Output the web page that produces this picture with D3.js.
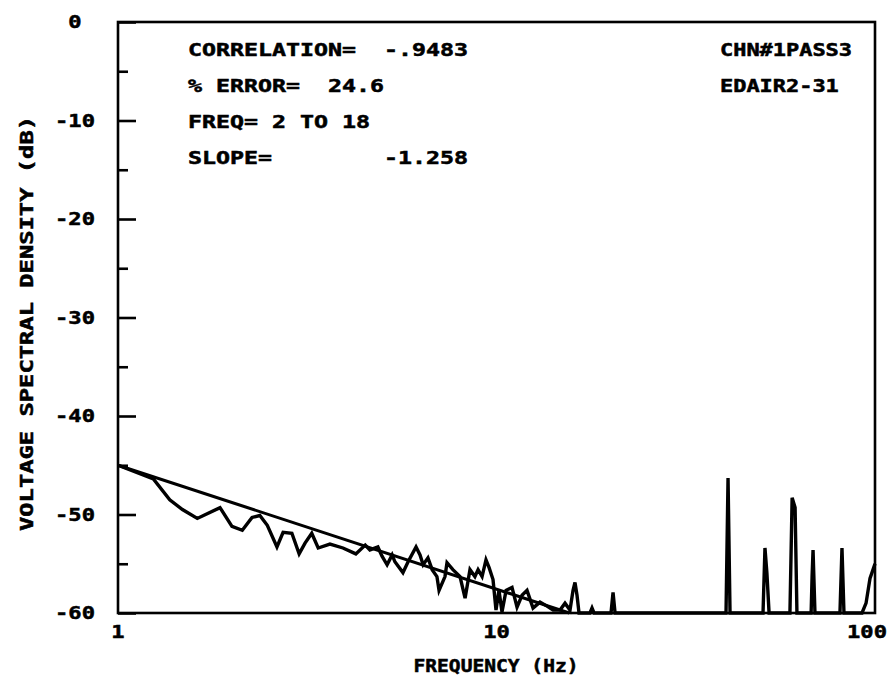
<!DOCTYPE html>
<html>
<head>
<meta charset="utf-8">
<script src="https://cdn.jsdelivr.net/npm/d3@7"></script>
<style>
  html, body { margin: 0; padding: 0; background: #fff; }
  svg text { font-family: "DejaVu Sans Mono", monospace; font-weight: bold; fill: #000; stroke: #000; stroke-width: 0.5; white-space: pre; }
</style>
</head>
<body>
<svg id="chart" width="892" height="684"></svg>
<script>
// Measured voltage spectral density (dB) against frequency (Hz)
const specFreq = [
  1.00, 1.24, 1.37, 1.48, 1.62, 1.86, 2.00, 2.13, 2.26, 2.37, 2.48, 2.63, 2.73, 2.88,
  3.01, 3.12, 3.25, 3.38, 3.63, 3.93, 4.25, 4.50, 4.63, 4.86, 4.98, 5.14, 5.30, 5.39,
  5.66, 5.84, 6.13, 6.28, 6.40, 6.59, 6.76, 6.96, 7.05, 7.31, 7.40, 7.67, 8.01, 8.26,
  8.51, 8.77, 8.94, 9.16, 9.38, 9.56, 9.79, 9.97, 10.15, 10.34, 10.60, 10.99, 11.33,
  11.68, 12.04, 12.49, 13.03, 13.60, 14.11, 14.72, 15.17, 15.64, 15.93, 16.12, 16.32,
  16.52, 17.66, 17.88, 18.10, 20.07, 20.32, 20.57,
  40.4, 40.9, 41.4,
  50.6, 51.2, 51.8, 52.5,
  59.6, 60.4, 61.5, 62.2,
  67.8, 68.2, 68.6, 69.4,
  80.8, 81.8, 82.8,
  92.4, 94.7, 97.0, 98.8, 100.0
];
const specDb = [
  -45.0, -46.4, -48.5, -49.5, -50.4, -49.3, -51.2, -51.6, -50.3, -50.1, -51.1, -53.3, -51.8, -51.9,
  -54.0, -52.9, -51.9, -53.4, -53.0, -53.4, -54.0, -53.1, -53.6, -53.3, -54.2, -55.1, -54.1, -54.8,
  -55.9, -54.8, -53.3, -54.1, -55.1, -54.4, -55.6, -56.3, -57.7, -56.3, -54.9, -55.6, -56.3, -58.5,
  -55.6, -56.3, -55.6, -56.3, -54.6, -55.4, -56.6, -59.7, -57.7, -59.9, -57.7, -57.4, -59.4,
  -58.2, -57.7, -59.5, -58.9, -59.3, -59.7, -59.7, -59.0, -59.7, -57.7, -56.9, -58.2,
  -60.0, -60.0, -59.5, -60.0, -60.0, -57.9, -60.0,
  -60.0, -46.3, -60.0,
  -60.0, -53.4, -55.9, -60.0,
  -60.0, -48.3, -49.3, -60.0,
  -60.0, -56.3, -53.6, -60.0,
  -60.0, -53.4, -60.0,
  -60.0, -59.0, -56.5, -55.6, -55.0
];

// Least-squares fit over 2–18 Hz: level at 1 Hz and log-log slope
const fitIntercept = -45.0;
const fitSlope = -1.258;

const yTicks = [0, -10, -20, -30, -40, -50, -60];
const yMinorTicks = [-5, -15, -25, -35, -45, -55];
const xTicks = [1, 10, 100];

const statLines = [
  "CORRELATION=  -.9483",
  "% ERROR=  24.6",
  "FREQ= 2 TO 18",
  "SLOPE=        -1.258"
];
const runLines = ["CHN#1PASS3", "EDAIR2-31"];
const yTitle = "VOLTAGE SPECTRAL DENSITY (dB)";
const xTitle = "FREQUENCY (Hz)";

const svg = d3.select("#chart");
const L = 118, R = 875, T = 22, B = 613;

const x = d3.scaleLog().domain([1, 100]).range([L, R]);
const y = d3.scaleLinear().domain([-60, 0]).range([B, T]);

// Frame
svg.append("rect")
  .attr("x", L).attr("y", T).attr("width", R - L).attr("height", B - T)
  .attr("fill", "none").attr("stroke", "#000").attr("stroke-width", 2.6);

// Left axis: ticks drawn inward
const yAxis = d3.axisRight(y).tickValues(yTicks).tickSize(18).tickFormat("");
svg.append("g").attr("transform", `translate(${L},0)`).call(yAxis)
  .call(g => g.select(".domain").remove())
  .call(g => g.selectAll("line").attr("stroke", "#000").attr("stroke-width", 2.6));
const yMinor = d3.axisRight(y).tickValues(yMinorTicks).tickSize(10).tickFormat("");
svg.append("g").attr("transform", `translate(${L},0)`).call(yMinor)
  .call(g => g.select(".domain").remove())
  .call(g => g.selectAll("line").attr("stroke", "#000").attr("stroke-width", 2.6));

// Tick labels are stretched to the plotter's wide character cell
const cell = 13.3;
svg.append("g").selectAll("text").data(yTicks).join("text")
  .attr("x", 75).attr("y", d => y(d)).attr("dy", "0.36em")
  .attr("text-anchor", "middle").attr("font-size", 17)
  .attr("textLength", d => String(d).length * cell).attr("lengthAdjust", "spacingAndGlyphs")
  .text(d => String(d));

svg.append("g").selectAll("text").data(xTicks).join("text")
  .attr("x", d => Math.min(x(d), R - 8)).attr("y", B + 19).attr("dy", "0.36em")
  .attr("text-anchor", "middle").attr("font-size", 17)
  .attr("textLength", d => String(d).length * cell).attr("lengthAdjust", "spacingAndGlyphs")
  .text(d => String(d));

// Axis titles
svg.append("text")
  .attr("transform", `translate(27,${(T + B) / 2 + 6}) rotate(-90)`)
  .attr("text-anchor", "middle").attr("dy", "0.36em").attr("font-size", 17)
  .attr("textLength", 415).attr("lengthAdjust", "spacingAndGlyphs")
  .text(yTitle);
svg.append("text")
  .attr("x", 496).attr("y", 666).attr("dy", "0.36em")
  .attr("text-anchor", "middle").attr("font-size", 17)
  .attr("textLength", 165).attr("lengthAdjust", "spacingAndGlyphs")
  .text(xTitle);

// Fit statistics block, one fixed-width cell per character
const statCell = 14;
svg.append("g").selectAll("text").data(statLines).join("text")
  .attr("x", 188).attr("y", (d, i) => 50 + i * 36).attr("dy", "0.36em")
  .attr("font-size", 17)
  .attr("textLength", d => d.length * statCell).attr("lengthAdjust", "spacingAndGlyphs")
  .text(d => d);

svg.append("g").selectAll("text").data(runLines).join("text")
  .attr("x", 720).attr("y", (d, i) => 50 + i * 36).attr("dy", "0.36em")
  .attr("font-size", 17)
  .attr("textLength", d => d.length * 13.2).attr("lengthAdjust", "spacingAndGlyphs")
  .text(d => d);

// Regression line: dB = intercept + 10*slope*log10(f), drawn until it meets the floor
const fitEndF = Math.pow(10, (-60 - fitIntercept) / (10 * fitSlope));
const fitPts = [1, fitEndF].map(f => [f, fitIntercept + 10 * fitSlope * Math.log10(f)]);
const line = d3.line().x(d => x(d[0])).y(d => y(d[1]));
svg.append("path").datum(fitPts).attr("d", line)
  .attr("fill", "none").attr("stroke", "#000").attr("stroke-width", 3);

// Spectrum trace
const spec = specFreq.map((f, i) => [f, specDb[i]]);
svg.append("path").datum(spec).attr("d", line)
  .attr("fill", "none").attr("stroke", "#000").attr("stroke-width", 3.4)
  .attr("stroke-linejoin", "miter").attr("stroke-miterlimit", 4);
</script>
</body>
</html>
